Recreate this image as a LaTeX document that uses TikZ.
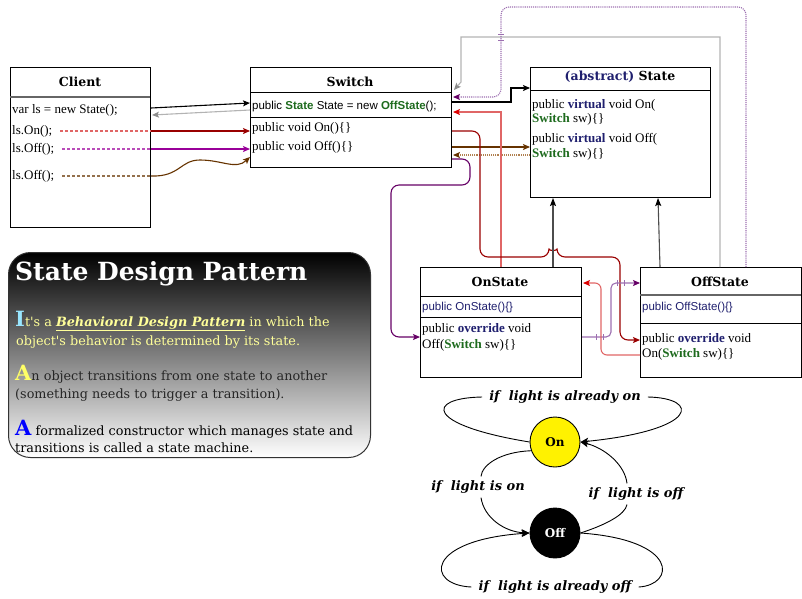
\documentclass[tikz,border=0pt]{standalone}
\usepackage{fontspec}
\setmainfont{Liberation Serif}
\setsansfont{Liberation Sans}
\newfontfamily\georgia{DejaVu Serif}
\usepackage{xcolor}
\usetikzlibrary{arrows.meta,positioning,calc}

\definecolor{kwnavy}{HTML}{1F1F6E}
\definecolor{tpgreen}{HTML}{1E6B1E}
\definecolor{dred}{HTML}{990000}
\definecolor{lred}{HTML}{E06666}
\definecolor{redtip}{HTML}{DD0000}
\definecolor{ppl}{HTML}{990099}
\definecolor{dppl}{HTML}{660066}
\definecolor{lilac}{HTML}{9C6FB0}
\definecolor{brn}{HTML}{663300}
\definecolor{lbrn}{HTML}{B08050}
\definecolor{lgray}{HTML}{B3B3B3}
\definecolor{paleyellow}{HTML}{FFFF99}
\definecolor{palecyan}{HTML}{99E6FF}
\definecolor{dropyellow}{HTML}{FFFF66}

\newcommand{\kw}[1]{\textcolor{kwnavy}{\textbf{#1}}}
\newcommand{\tp}[1]{\textcolor{tpgreen}{\textbf{#1}}}
\newcommand{\drop}[2]{{\fontsize{21}{22}\selectfont\bfseries\color{#1}#2}}

\begin{document}
\begin{tikzpicture}[x=1pt,y=-1pt,
  umlbox/.style={draw,fill=white,inner sep=0pt,line width=1pt,anchor=north west},
  cltitle/.style={font=\georgia\bfseries\fontsize{12.5}{14}\selectfont},
  code/.style={anchor=west,inner sep=0pt,text height=9pt,text depth=3pt,font=\fontsize{13}{15}\selectfont},
  scode/.style={code,font=\sffamily\fontsize{11.5}{14}\selectfont},
  para/.style={anchor=base west,inner sep=0pt,font=\georgia\fontsize{12.8}{15}\selectfont},
  infobox/.style={draw=black!80,line width=1pt,rounded corners=22pt,top color=black,bottom color=white,anchor=north west},
  link/.style={line width=1.1pt,-{Stealth[length=7pt,width=6pt,inset=1.5pt]}},
  calldash/.style={line width=1.1pt,dash pattern=on 3pt off 2pt},
  inh/.style={link,draw=black!70,-{Stealth[length=8pt,width=6pt,inset=1.5pt,color=black]}},
  smlabel/.style={inner ysep=1pt,inner xsep=7pt,font=\georgia\bfseries\itshape\fontsize{13}{15}\selectfont},
  smline/.style={line width=0.9pt},
  smarrow/.style={smline,-{Stealth[length=8pt,width=7pt,inset=2pt]}},
  stnode/.style={circle,draw,line width=0.9pt,minimum size=50pt,inner sep=0pt,font=\georgia\bfseries\fontsize{12}{14}\selectfont}]
  \useasboundingbox (0,0) rectangle (802,598);

  % class boxes
  \node[umlbox,minimum width=140pt,minimum height=160pt] (client) at (10,67) {};
  \node[umlbox,minimum width=201pt,minimum height=100pt] (switch) at (250,67) {};
  \node[umlbox,minimum width=180pt,minimum height=130pt] (state) at (530,67) {};
  \node[umlbox,minimum width=161pt,minimum height=110pt] (onstate) at (420,267) {};
  \node[umlbox,minimum width=161pt,minimum height=110pt] (offstate) at (640,267) {};
  \foreach \b/\d/\w in {switch/25/201,switch/50/201,state/23/180,onstate/29/161,onstate/50/161,offstate/56/161}
    \draw[line width=1pt] (\b.north west) ++(0,\d) -- ++(\w,0);
  \draw[line width=1.6pt,black!60] (client.north west) ++(0,30) -- ++(140,0);
  \draw[line width=1.6pt,black!60] (offstate.north west) ++(0,28) -- ++(161,0);

  \node[cltitle] (clientname) at (80,82) {Client};
  \node[code] (cvar) at (12,110) {var ls = new State();};
  \node[code] (con) at (12,131) {ls.On();};
  \node[code] (coff) at (12,149) {ls.Off();};
  \node[code] (coffb) at (12,176) {ls.Off();};

  \node[cltitle] (switchname) at (350,82) {Switch};
  \node[scode] (sfield) at (252,106) {public \tp{State} State = new \tp{OffState}();};
  \node[code] (son) at (252,128) {public void On()\{\}};
  \node[code] (soff) at (252,147) {public void Off()\{\}};

  \node[cltitle] (statename) at (620,77) {\textcolor{kwnavy}{(abstract)} State};
  \node[code] (ston) at (532,105) {public \kw{virtual} void On(};
  \node[code] (stonb) at (532,119) {\tp{Switch} sw)\{\}};
  \node[code] (stoff) at (532,139) {public \kw{virtual} void Off(};
  \node[code] (stoffb) at (532,154) {\tp{Switch} sw)\{\}};

  \node[cltitle] (onname) at (500,282) {OnState};
  \node[scode,text=kwnavy] (onctor) at (422,307) {public OnState()\{\}};
  \node[code] (onoff) at (422,329) {public \kw{override} void};
  \node[code] (onoffb) at (422,345) {Off(\tp{Switch} sw)\{\}};

  \node[cltitle] (offname) at (720,282) {OffState};
  \node[scode,text=kwnavy] (offctor) at (642,307) {public OffState()\{\}};
  \node[code] (offon) at (642,339) {public \kw{override} void};
  \node[code] (offonb) at (642,354) {On(\tp{Switch} sw)\{\}};

  % client -> switch
  \draw[link] ($(client.east |- cvar)+(0,-2)$) -- ($(switch.west |- sfield)+(0,-3)$);
  \draw[link,lgray,-{Stealth[length=7pt,width=6pt,inset=1.5pt,color=black!45]}] ($(switch.west |- sfield)+(0,4)$) -- ($(client.east |- cvar)+(1,5)$);
  \draw[calldash,lred] ($(con.east)+(8,0)$) -- (client.east |- con);
  \draw[link,dred] (client.east |- con) -- (switch.west |- con);
  \draw[calldash,ppl!70] ($(coff.east)+(8,0)$) -- (client.east |- coff);
  \draw[link,ppl] (client.east |- coff) -- (switch.west |- coff);
  \draw[calldash,brn!70] ($(coffb.east)+(8,0)$) -- (client.east |- coffb);
  \draw[link,brn] (client.east |- coffb) .. controls (180,177) and (180,160) .. (200,160)
    .. controls (222,160) and (236,170) .. ($(switch.south west)+(0,-11)$);

  % switch <-> state
  \draw[link] ($(switch.east |- sfield)+(0,-4)$) -- ++(59,0) |- ($(state.north west)+(0,21)$);
  \draw[link,brn] (switch.east |- soff) -- (state.west |- soff);
  \draw[link,lbrn,densely dotted,-{Stealth[length=7pt,width=6pt,inset=1.5pt,color=brn]}] ($(state.west |- soff)+(0,8)$) -- ($(switch.east |- soff)+(1,8)$);

  % state objects call back into switch
  \draw[link,lgray,-{Stealth[length=7pt,width=6pt,inset=1.5pt,color=black!45]}] ($(offstate.north west)+(80,0)$) |- (461,37) -- (461,82) -- ($(switch.north east)+(2,23)$);
  \draw[link,lilac,densely dotted,rounded corners=8pt,-{Stealth[length=7pt,width=6pt,inset=1.5pt,color=dppl]}] ($(offstate.north west)+(106,0)$) |- (501,7) |- ($(switch.north east)+(1,30)$);
  \foreach \t in {34,40} \draw[lilac,line width=1pt] (498,\t) -- (504,\t);
  \draw[link,lred,-{Stealth[length=7pt,width=6pt,inset=1.5pt,color=redtip]}] ($(onstate.north west)+(81,0)$) |- ($(switch.north east)+(1,45)$);

  % switch -> states
  \draw[link,dred,rounded corners=8pt] ($(switch.north east)+(0,64)$) -| (480,257) -- (549,257)
    .. controls (549,251) and (557,251) .. (557,257) -| (620,340) -- ($(offstate.north west)+(0,73)$);
  \draw[link,dppl,rounded corners=8pt] ($(switch.north east)+(0,92)$) -- (470,159) |- (391,185) |- ($(onstate.north west)+(0,70)$);

  % onstate <-> offstate
  \draw[link,lilac,rounded corners=5pt,-{Stealth[length=7pt,width=6pt,inset=1.5pt,color=dppl]}] ($(onstate.north east)+(0,70)$) -| (611,283) -- ($(offstate.north west)+(0,16)$);
  \foreach \t in {596,603} \draw[lilac,line width=1pt] (\t,334) -- (\t,340);
  \foreach \t in {617,624} \draw[lilac,line width=1pt] (\t,280) -- (\t,286);
  \draw[link,lred,rounded corners=6pt,-{Stealth[length=7pt,width=6pt,inset=1.5pt,color=redtip]}] ($(offstate.north west)+(0,88)$) -| (601,283) -- ($(onstate.north east)+(1,16)$);

  % inheritance
  \draw[inh] ($(onstate.north west)+(133,0)$) -- ($(state.south west)+(23,0)$);
  \draw[inh] ($(offstate.north west)+(20,0)$) -- ($(state.south west)+(128,0)$);

  % info box
  \node[infobox,minimum width=362pt,minimum height=205pt] (info) at (8,252) {};
  \node[anchor=base west,inner sep=0pt,text=white,font=\georgia\bfseries\fontsize{25}{28}\selectfont] (infotitle) at (15,280) {State Design Pattern};
  \node[para,text=paleyellow] (p1a) at (15,326) {\drop{palecyan}{I}t's a \underline{\textbf{\textit{Behavioral Design Pattern}}} in which the};
  \node[para,text=paleyellow] (p1b) at (16,345) {object's behavior is determined by its state.};
  \node[para,text=black!85] (p2a) at (15,380) {\drop{dropyellow}{A}n object transitions from one state to another};
  \node[para,text=black!85] (p2b) at (15,398) {(something needs to trigger a transition).};
  \node[para] (p3a) at (15,435) {\drop{blue}{A} formalized constructor which manages state and};
  \node[para] (p3b) at (15,452) {transitions is called a state machine.};

  % state machine
  \node[stnode,fill=yellow] (on) at (555,442) {On};
  \node[stnode,fill=black,text=white] (off) at (555,533) {Off};
  \node[smlabel] (lalon) at (565,397) {if\ \ light is already on};
  \node[smlabel,inner ysep=4pt] (lon) at (478,487) {if\ \ light is on};
  \node[smlabel,inner ysep=4pt] (loff) at (636,494) {if\ \ light is off};
  \node[smlabel] (laloff) at (555,587) {if\ \ light is already off};
  \draw[smline] (on.west) .. controls (425,425) and (425,398) .. (lalon.west);
  \draw[smarrow] (lalon.east) .. controls (700,398) and (700,430) .. (on.east);
  \draw[smline] (on.200) .. controls (500,452) and (482,465) .. ($(lon.north)+(3,0)$);
  \draw[smarrow] ($(lon.south)+(3,0)$) .. controls (484,518) and (505,532) .. (off.west);
  \draw[smline] (off.east) .. controls (605,525) and (625,515) .. ($(loff.south)+(-9,0)$);
  \draw[smarrow] ($(loff.north)+(-9,0)$) .. controls (625,465) and (605,448) .. (on.east);
  \draw[smline] (off.east) .. controls (680,540) and (675,585) .. (laloff.east);
  \draw[smarrow] (laloff.west) .. controls (425,585) and (425,540) .. (off.west);
\end{tikzpicture}
\end{document}
